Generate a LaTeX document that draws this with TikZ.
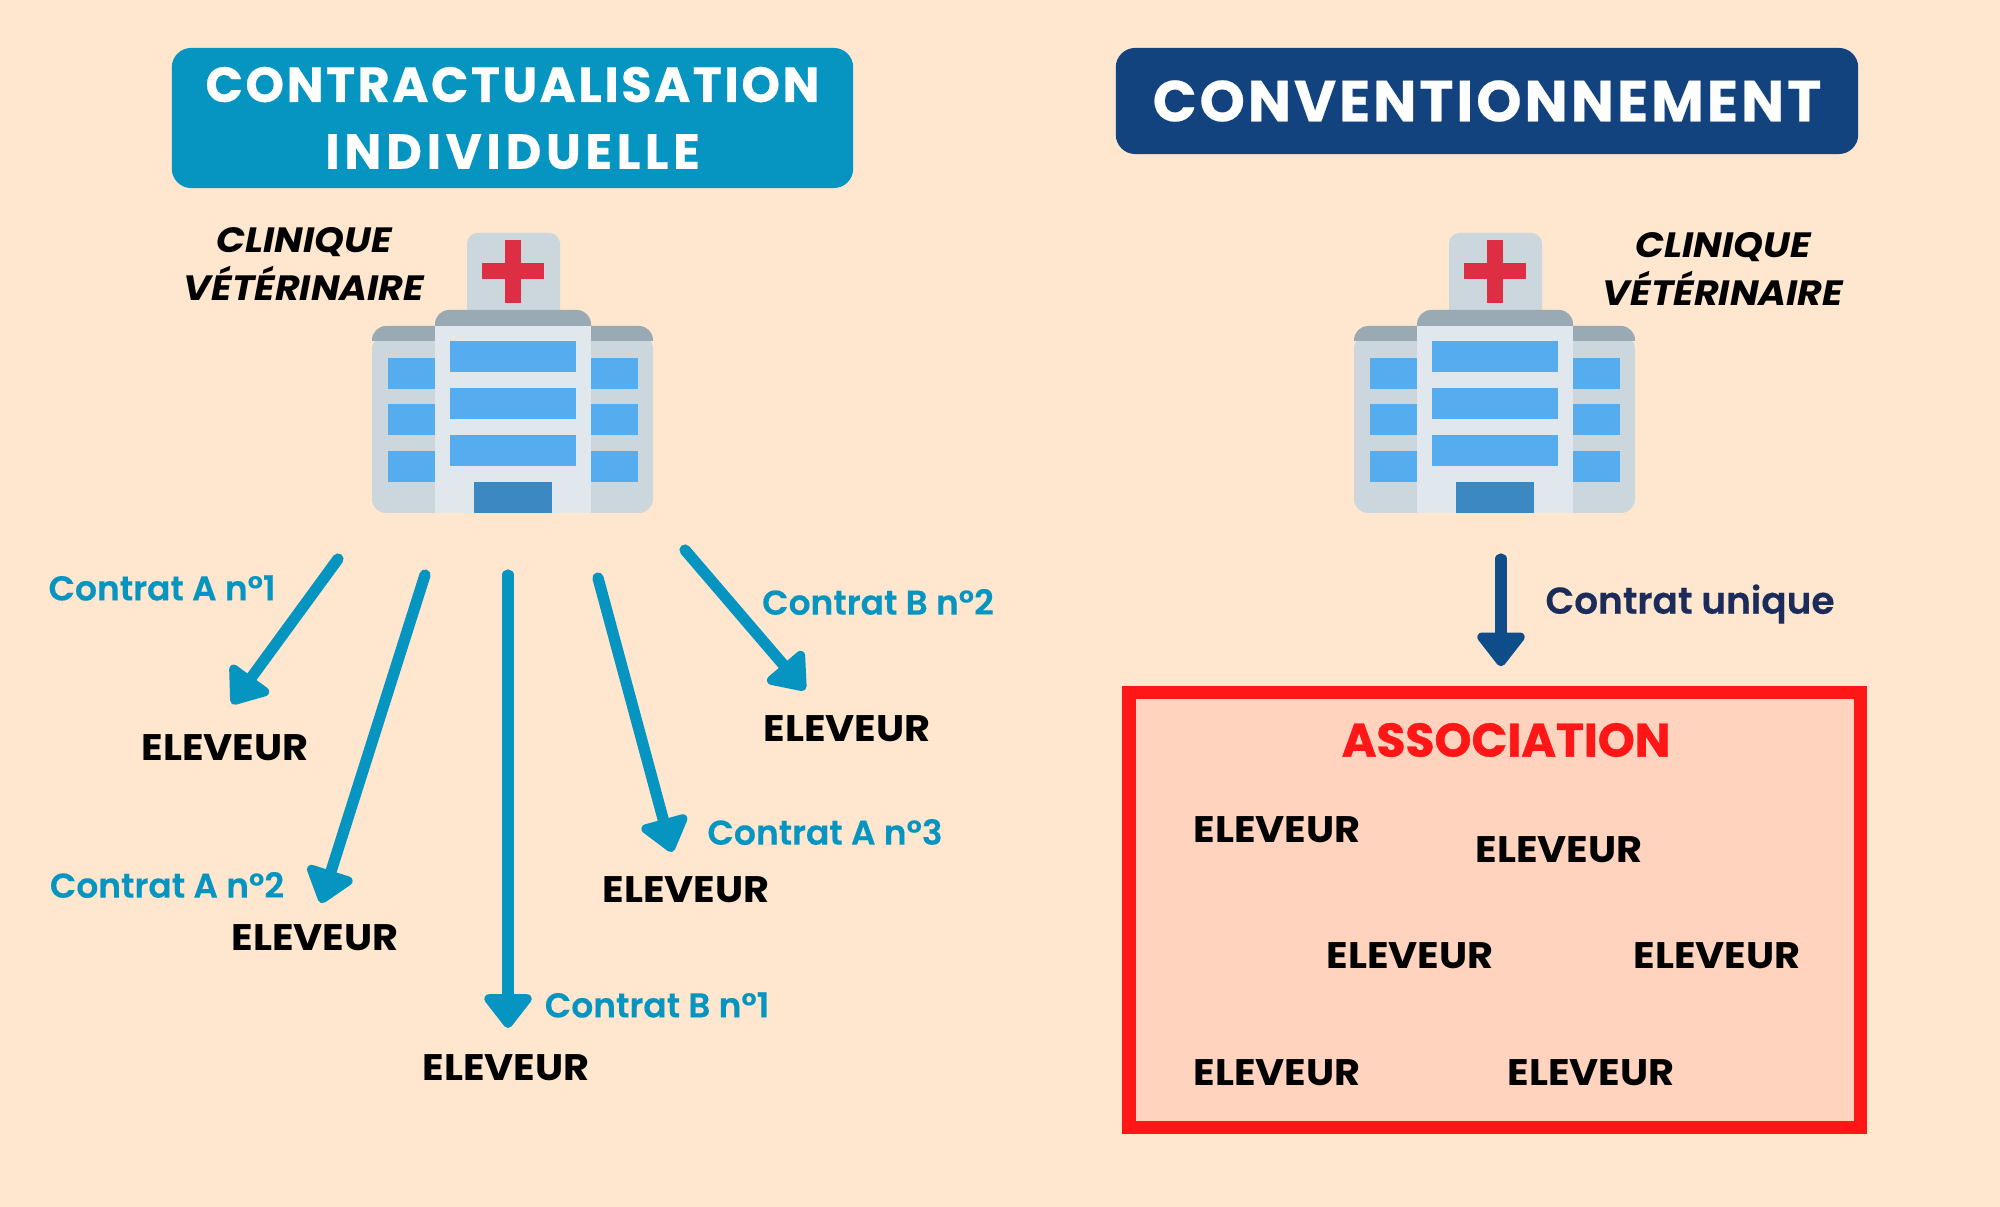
\documentclass[tikz,border=0pt]{standalone}
\usepackage{fontspec}
\setmainfont{Poppins}
\newfontfamily\fontdemi[FakeBold=0.25]{Poppins SemiBold}
\newfontfamily\fontmont[FakeStretch=1.08]{Poppins}
\newfontfamily\fontasso[FakeBold=0.8]{Poppins}
\newfontfamily\fonttitre[LetterSpace=5,FakeBold=0.4]{Poppins}
\newfontfamily\fonttitrelarge[LetterSpace=9.5,FakeBold=0.4]{Poppins}
\usetikzlibrary{arrows.meta}
\definecolor{fond}{HTML}{FEE6CF}
\definecolor{bleucontrat}{HTML}{0694C1}
\definecolor{bleunuit}{HTML}{12437F}
\definecolor{bleuunique}{HTML}{0F4C8A}
\definecolor{texteunique}{HTML}{1B2B5A}
\definecolor{rouge}{HTML}{FF1616}
\definecolor{saumon}{HTML}{FFD3BE}
\definecolor{tourgris}{HTML}{CCD6DD}
\definecolor{toitgris}{HTML}{99AAB5}
\definecolor{facegris}{HTML}{E1E8ED}
\definecolor{vitre}{HTML}{55ACEE}
\definecolor{porte}{HTML}{3B88C3}
\definecolor{croix}{HTML}{DD2E44}
\tikzset{
  x=0.01cm,y=-0.01cm,
  entete/.style={rounded corners=5.5pt,text=white,align=center,inner sep=0pt,font=\fonttitre\bfseries\fontsize{14}{19}\selectfont},
  eleveur/.style={inner sep=1pt,text=black,font=\fontmont\bfseries\fontsize{10.5}{12}\selectfont},
  contrat/.style={inner sep=1pt,text=bleucontrat,font=\fontdemi\fontsize{9.8}{12}\selectfont},
  clinique/.style={inner sep=0pt,align=center,text=black,font=\fontmont\bfseries\itshape\fontsize{10}{13.4}\selectfont},
  fleche/.style={draw=bleucontrat,line width=3.2pt,line cap=round,-{Triangle[length=10.5pt,width=15.5pt,round]}},
  pics/hopital/.style={code={
    \fill[tourgris,rounded corners=3pt] (467,320) -- (467,233) -- (560,233) -- (560,320) -- cycle;
    \fill[tourgris,rounded corners=4pt] (372,335) -- (372,513) -- (653,513) -- (653,335) -- cycle;
    \fill[toitgris] (372,341) [rounded corners=4pt] -- (372,326) -- (653,326) [sharp corners] -- (653,341) -- cycle;
    \fill[toitgris] (435,326) [rounded corners=4pt] -- (435,310) -- (591,310) [sharp corners] -- (591,326) -- cycle;
    \fill[facegris] (435,326) rectangle (591,513);
    \foreach \yh in {341,388,435} \fill[vitre] (450,\yh) rectangle (576,\yh+31);
    \foreach \yh in {358,404,451} {
      \fill[vitre] (388,\yh) rectangle (435,\yh+31);
      \fill[vitre] (591,\yh) rectangle (638,\yh+31);
    }
    \fill[porte] (474,482) rectangle (552,513);
    \fill[croix] (505,240) rectangle (521,303);
    \fill[croix] (482,263) rectangle (544,279);
  }}
}
\begin{document}
\begin{tikzpicture}
  \fill[fond] (0,0) rectangle (2000,1207);

  % titres
  \node[entete,fill=bleucontrat,minimum width=6.81cm,minimum height=1.40cm] (titreA) at (512.5,118) {CONTRACTUALISATION\\{\fonttitrelarge\bfseries INDIVIDUELLE}};
  \node[entete,fill=bleunuit,minimum width=7.42cm,minimum height=1.06cm,font=\fonttitre\bfseries\fontsize{16.4}{19}\selectfont] (titreB) at (1487,101) {CONVENTIONNEMENT};

  % les deux cliniques
  \pic {hopital};
  \pic at (982,0) {hopital};
  \node[clinique] (cliniqueA) at (304,264) {CLINIQUE\\VÉTÉRINAIRE};
  \node[clinique] (cliniqueB) at (1723,269) {CLINIQUE\\VÉTÉRINAIRE};

  % contrats individuels
  \node[eleveur] (elevA) at (225,748) {ELEVEUR};
  \node[eleveur] (elevB) at (315,938) {ELEVEUR};
  \node[eleveur] (elevC) at (506,1068) {ELEVEUR};
  \node[eleveur] (elevD) at (686,890) {ELEVEUR};
  \node[eleveur] (elevE) at (847,729) {ELEVEUR};
  \coordinate (depA) at (338,559);
  \coordinate (depB) at (425,575);
  \coordinate (depC) at (508,575);
  \coordinate (depD) at (598,578);
  \coordinate (depE) at (685,550);
  \coordinate (finA) at (232,704);
  \coordinate (finB) at (321,903);
  \coordinate (finC) at (508,1028);
  \coordinate (finD) at (672,852);
  \coordinate (finE) at (805,690);
  \draw[fleche] (depA) -- (finA);
  \draw[fleche] (depB) -- (finB);
  \draw[fleche] (depC) -- (finC);
  \draw[fleche] (depD) -- (finD);
  \draw[fleche] (depE) -- (finE);
  \node[contrat] (cA) at (162,588) {Contrat A n°1};
  \node[contrat] (cB) at (167,885) {Contrat A n°2};
  \node[contrat] (cC) at (825,832) {Contrat A n°3};
  \node[contrat] (cD) at (657,1005) {Contrat B n°1};
  \node[contrat] (cE) at (878,602) {Contrat B n°2};

  % association
  \node[draw=rouge,fill=saumon,line width=3.7pt,minimum width=7.31cm,minimum height=4.355cm,inner sep=0pt] (asso) at (1494.7,910) {};
  \node[inner sep=1pt,text=rouge,font=\fontasso\bfseries\fontsize{13.4}{15}\selectfont] (titreAsso) at (1506,740) {ASSOCIATION};
  \node[eleveur] (elevF) at (1277,830) {ELEVEUR};
  \node[eleveur] (elevG) at (1559,850) {ELEVEUR};
  \node[eleveur] (elevH) at (1410,956) {ELEVEUR};
  \node[eleveur] (elevI) at (1717,956) {ELEVEUR};
  \node[eleveur] (elevJ) at (1277,1073) {ELEVEUR};
  \node[eleveur] (elevK) at (1591,1073) {ELEVEUR};
  \coordinate (depU) at (1501,559);
  \draw[fleche,draw=bleuunique,shorten >=5.5pt] (depU) -- (depU|-asso.north);
  \node[contrat,text=texteunique,font=\fontdemi\fontsize{10.65}{12}\selectfont] (cU) at (1690,604) {Contrat unique};
\end{tikzpicture}
\end{document}
